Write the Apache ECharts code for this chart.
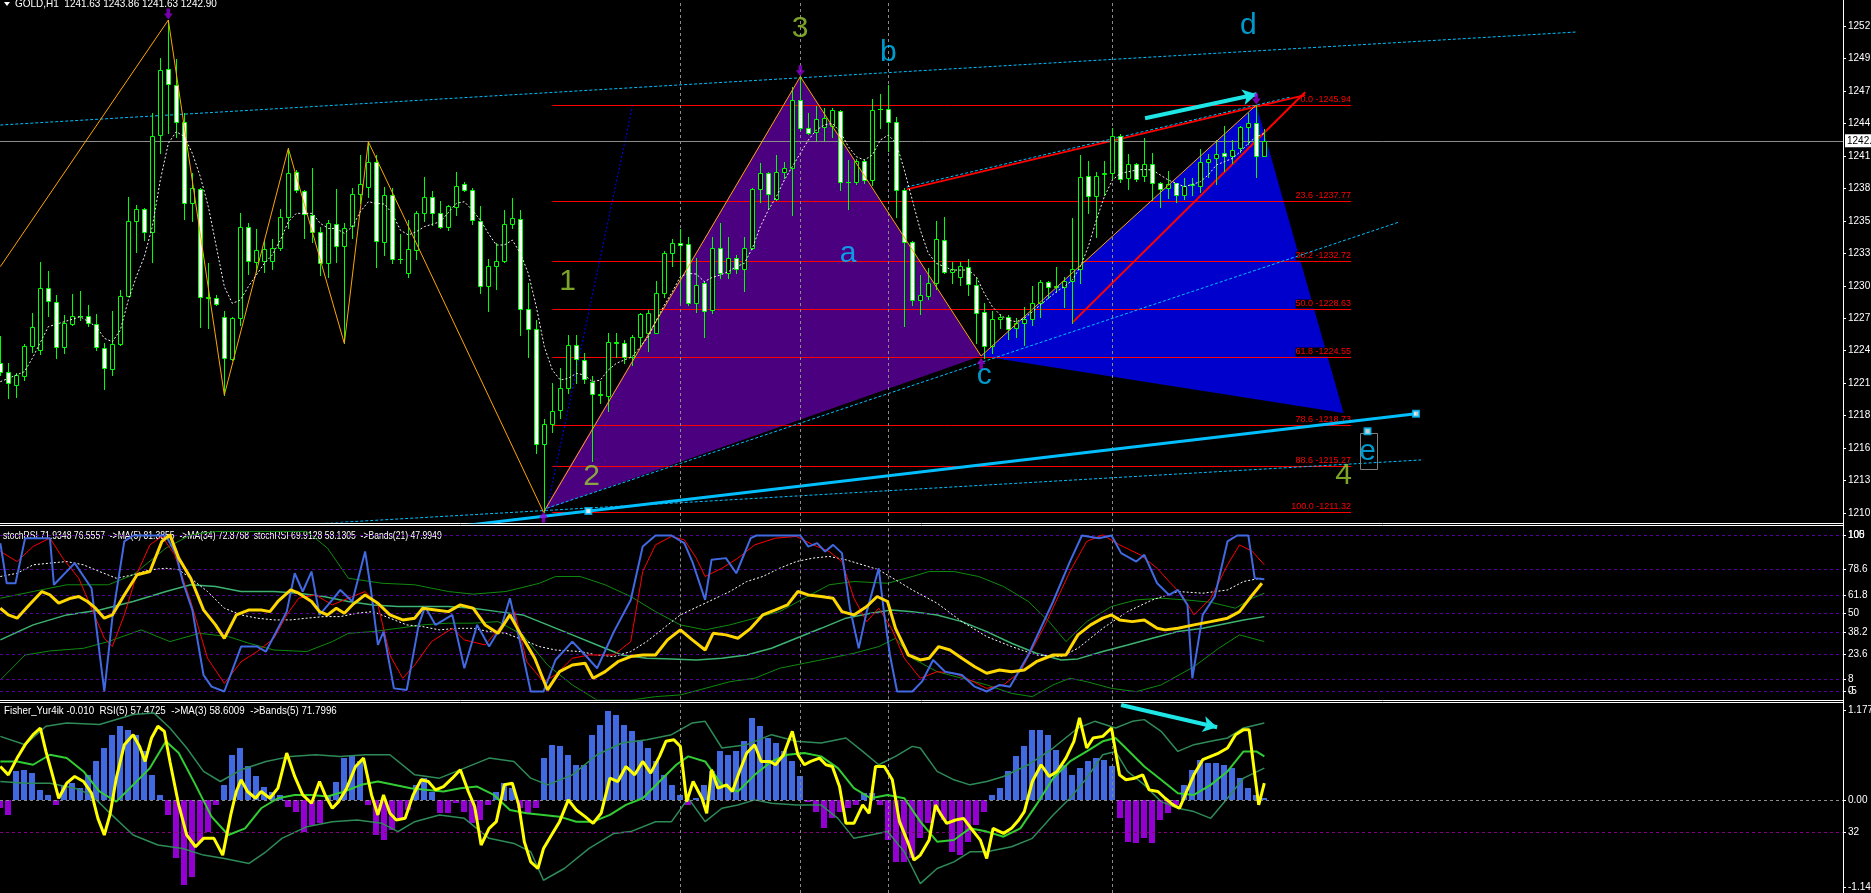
<!DOCTYPE html>
<html><head><meta charset="utf-8">
<script src="https://cdn.jsdelivr.net/npm/echarts@6/dist/echarts.min.js"></script>
<style>html,body{margin:0;padding:0;background:#000;overflow:hidden}#c{width:1871px;height:893px}</style>
</head><body><div id="c"></div>
<script>
// ---------- MAIN PANEL DATA (GOLD,H1) ----------
const candleOpen = [
1224.03,1223.28,1222.14,1222.93,1225.48,1225.11,1230.41,1229.19,1225.34,1227.32,
1228.01,1228.01,1227.32,1225.31,1223.50,1225.60,1229.73,1236.08,1237.07,1235.12,
1243.39,1248.99,1247.64,1244.52,1237.58,1238.77,1229.65,1229.50,1227.89,1224.35,
1227.86,1235.60,1232.62,1232.68,1232.68,1233.81,1236.45,1240.27,1238.66,1236.59,
1235.12,1232.54,1235.80,1233.95,1235.68,1238.34,1239.00,1241.12,1234.27,1238.29,
1232.88,1231.69,1233.61,1236.73,1238.09,1236.73,1235.60,1237.30,1239.19,1238.71,
1236.08,1230.55,1232.25,1232.68,1235.80,1236.22,1228.60,1226.90,1217.10,1218.80,
1220.02,1221.86,1225.54,1224.26,1222.42,1221.38,1221.21,1225.82,1225.68,1224.49,
1226.25,1226.59,1226.59,1229.93,1233.39,1234.24,1234.10,1229.08,1230.84,1228.51,
1233.81,1231.69,1232.96,1231.97,1233.81,1238.77,1240.19,1237.95,1240.27,1240.61,
1246.36,1243.95,1243.67,1244.10,1244.15,1245.43,1239.42,1239.42,1241.21,1239.56,
1245.63,1245.60,1244.52,1238.71,1234.32,1229.36,1229.70,1230.78,1234.46,1231.77,
1231.35,1232.14,1230.64,1228.32,1225.48,1227.75,1227.89,1227.01,1227.38,1227.72,
1229.14,1230.90,1230.53,1230.44,1230.98,1231.97,1239.93,1238.23,1240.04,1240.13,
1243.33,1239.76,1240.89,1239.93,1240.92,1239.28,1238.85,1239.28,1238.29,1239.17,
1239.05,1241.12,1241.40,1241.89,1241.63,1242.25,1244.10,1244.44,1241.63];
const candleHigh = [
1226.30,1224.03,1223.19,1225.60,1228.29,1232.62,1231.86,1229.79,1228.09,1229.87,
1230.13,1228.94,1228.18,1225.68,1228.46,1230.21,1238.09,1237.41,1237.20,1245.29,
1249.96,1253.16,1249.85,1245.23,1240.13,1238.90,1232.48,1229.79,1228.46,1227.90,
1236.73,1235.88,1235.37,1234.46,1234.52,1237.07,1242.25,1240.41,1238.71,1240.61,
1235.60,1236.16,1238.77,1235.94,1238.91,1241.69,1242.82,1241.69,1239.00,1238.85,
1234.94,1236.16,1236.96,1239.85,1238.63,1237.78,1237.44,1240.21,1239.42,1238.85,
1237.35,1232.82,1234.18,1237.01,1238.00,1237.01,1230.84,1227.66,1219.22,1222.28,
1223.56,1226.39,1226.39,1224.83,1222.90,1222.48,1226.59,1226.59,1225.96,1226.35,
1228.23,1228.51,1230.98,1233.56,1234.52,1235.37,1234.75,1232.90,1230.98,1234.69,
1235.88,1234.69,1233.19,1234.69,1238.91,1240.98,1240.27,1241.69,1241.12,1247.44,
1248.35,1245.29,1245.85,1245.65,1245.65,1245.51,1241.26,1241.32,1241.32,1246.45,
1246.87,1247.64,1244.89,1238.85,1234.40,1231.49,1232.05,1236.11,1236.45,1232.62,
1232.62,1232.82,1231.21,1229.14,1228.43,1228.18,1228.09,1227.81,1228.74,1230.58,
1231.07,1231.01,1232.20,1231.35,1236.31,1241.69,1241.18,1240.27,1241.21,1243.95,
1243.47,1241.77,1241.04,1243.10,1241.89,1239.42,1240.36,1239.34,1239.70,1239.70,
1242.17,1241.77,1242.96,1244.18,1242.96,1244.15,1245.23,1245.94,1243.86];
const candleLow = [
1222.99,1221.07,1221.15,1222.57,1224.97,1224.77,1228.01,1224.46,1224.88,1227.24,
1227.67,1227.15,1225.11,1221.80,1223.02,1225.54,1229.70,1233.47,1234.46,1232.62,
1241.83,1243.53,1243.25,1236.25,1236.11,1227.04,1226.96,1228.94,1221.29,1224.26,
1227.24,1231.57,1231.77,1231.77,1231.97,1233.61,1235.46,1238.57,1234.66,1234.32,
1231.49,1231.29,1232.62,1225.68,1234.66,1237.58,1238.15,1232.20,1233.19,1232.48,
1232.48,1231.29,1232.82,1236.11,1235.71,1235.51,1235.31,1236.59,1238.66,1235.80,
1229.93,1228.43,1230.27,1232.62,1235.51,1226.39,1224.49,1216.39,1211.32,1218.17,
1219.31,1221.49,1222.28,1222.28,1215.68,1220.58,1219.96,1224.49,1223.98,1223.84,
1225.54,1225.06,1226.53,1229.59,1232.25,1229.22,1228.94,1228.32,1226.25,1228.23,
1231.21,1231.26,1231.63,1230.13,1233.67,1237.72,1237.16,1237.86,1239.70,1236.59,
1243.81,1243.47,1242.96,1242.96,1243.19,1238.71,1237.07,1239.19,1239.28,1239.14,
1243.95,1242.06,1236.45,1227.15,1228.94,1228.18,1229.45,1230.27,1231.69,1230.78,
1230.64,1229.79,1225.68,1224.40,1224.83,1226.96,1226.02,1226.25,1225.54,1227.24,
1227.89,1229.50,1230.07,1228.80,1227.44,1230.78,1236.79,1234.75,1238.29,1239.70,
1239.42,1238.83,1239.51,1239.48,1237.86,1237.30,1238.00,1237.72,1237.92,1238.29,
1238.57,1239.85,1239.22,1240.36,1241.04,1241.97,1242.62,1239.85,1241.63];
const candleClose = [
1223.28,1222.28,1222.99,1225.48,1227.07,1230.41,1229.28,1225.34,1227.38,1228.01,
1227.98,1227.44,1225.34,1223.58,1225.60,1229.70,1236.08,1237.07,1235.12,1243.33,
1248.91,1247.72,1244.52,1237.58,1238.85,1229.65,1229.50,1229.00,1224.46,1227.81,
1235.60,1232.68,1233.61,1233.67,1233.81,1236.45,1240.19,1238.71,1236.67,1235.12,
1232.48,1235.88,1233.95,1235.51,1238.34,1239.19,1241.12,1234.38,1238.29,1232.82,
1232.82,1233.67,1236.73,1238.09,1236.73,1235.60,1237.35,1239.08,1238.71,1236.16,
1230.55,1232.25,1232.68,1235.80,1236.31,1228.60,1226.90,1217.10,1218.80,1219.96,
1221.86,1225.54,1224.32,1222.62,1221.35,1221.32,1225.82,1225.68,1224.49,1226.25,
1228.18,1228.29,1229.99,1233.33,1234.24,1234.04,1229.08,1230.64,1228.43,1233.76,
1231.69,1232.96,1231.97,1233.81,1238.77,1240.19,1238.34,1240.27,1240.61,1246.36,
1243.95,1243.53,1244.72,1244.80,1245.51,1239.42,1239.39,1241.21,1239.56,1245.51,
1245.57,1244.52,1238.71,1234.27,1229.36,1229.79,1230.78,1234.52,1231.77,1231.97,
1232.25,1230.70,1228.29,1225.46,1227.72,1227.95,1226.90,1227.38,1227.75,1229.14,
1230.90,1230.44,1230.47,1230.98,1231.97,1239.85,1238.20,1239.93,1240.19,1243.30,
1239.65,1240.89,1239.65,1240.89,1239.28,1238.77,1239.19,1238.29,1239.08,1239.22,
1241.12,1241.35,1241.77,1241.63,1242.11,1244.10,1244.44,1241.63,1242.90];

// moving average (white dotted) [bar index, price]
const maLine = [[0,1222.42],[3,1223.27],[4,1224.41],[6,1227.10],[8,1227.52],[10,1227.95],[12,1227.10],[13,1226.11],[14,1225.82],[15,1226.81],[16,1229.36],[17,1231.35],[18,1233.05],[19,1235.60],[20,1239.56],[21,1242.68],[22,1243.67],[23,1243.25],[24,1241.83],[25,1239.85],[26,1237.30],[27,1233.90],[28,1230.50],[29,1229.08],[30,1229.36],[31,1230.50],[32,1231.49],[33,1232.48],[34,1233.19],[35,1234.46],[36,1236.02],[37,1236.73],[39,1236.73],[40,1235.88],[41,1235.45],[42,1235.45],[43,1235.03],[44,1235.60],[45,1236.87],[46,1237.72],[47,1237.58],[48,1237.52],[49,1236.73],[50,1235.31],[51,1234.89],[52,1235.17],[53,1235.60],[55,1236.02],[57,1237.58],[58,1237.72],[59,1237.01],[60,1236.16],[61,1235.03],[62,1234.04],[63,1234.04],[64,1234.46],[65,1233.33],[66,1231.63],[67,1228.80],[68,1225.40],[69,1223.42],[70,1222.56],[71,1222.71],[72,1223.13],[73,1222.99],[74,1222.42],[75,1222.56],[76,1223.42],[77,1223.98],[78,1224.27],[79,1224.55],[80,1225.40],[81,1226.25],[82,1227.66],[83,1228.94],[84,1230.07],[85,1231.35],[86,1231.63],[87,1231.57],[88,1230.92],[89,1231.29],[90,1231.49],[91,1231.77],[92,1232.20],[93,1232.48],[94,1233.76],[95,1235.60],[96,1237.01],[97,1238.15],[98,1239.56],[99,1240.70],[100,1241.83],[101,1242.96],[102,1243.81],[103,1244.24],[104,1244.38],[105,1243.67],[106,1242.40],[107,1241.55],[108,1241.26],[109,1241.69],[110,1242.96],[111,1243.39],[112,1242.68],[113,1240.41],[114,1237.86],[115,1235.31],[116,1233.33],[117,1232.48],[118,1232.20],[119,1231.91],[121,1231.91],[122,1231.35],[123,1229.93],[124,1228.80],[125,1228.09],[126,1227.66],[127,1227.52],[128,1227.81],[129,1228.37],[130,1228.94],[131,1229.51],[132,1230.07],[133,1230.50],[134,1231.06],[135,1232.20],[136,1233.90],[137,1236.16],[138,1238.15],[139,1239.56],[140,1240.13],[141,1240.27],[142,1240.41],[143,1240.47],[144,1240.41],[145,1239.99],[146,1239.56],[147,1239.28],[148,1239.00],[149,1239.19],[150,1239.42],[151,1239.99],[152,1240.84],[153,1241.12],[154,1241.40],[155,1241.97],[156,1242.68],[157,1243.25],[158,1243.53]];

// zigzag pivots [bar index, price]
const zigzag = [[0,1232.2],[21,1253.16],[28,1221.29],[36,1242.25],[43,1225.68],[46,1242.82],[67.9,1211.32],[100,1248.35],[122.6,1224.6],[157,1245.94]];
const purpleTriangle = [[67.9,1211.52],[100,1248.35],[122.6,1224.6]];
const blueTriangle = [[122.6,1224.6],[157,1245.94],[167.9,1219.76]];

// Fibonacci levels
const fibPct = [0.0,23.6,38.2,50.0,61.8,78.6,88.6,100.0];
const fibPrice = [1245.94,1237.77,1232.72,1228.63,1224.55,1218.73,1215.27,1211.32];
const fibRange = [69,168.85];

// trend / channel lines [bar index, price]
const channelUpper = [[0,1244.24],[196.9,1252.14]];
const channelLower = [[40,1210.37],[177.6,1215.77]];
const lineFrom2 = [[68.3,1211.66],[174.75,1235.97]];
const blueDotLine = [[68.3,1211.5],[79.0,1245.8]];
const cyanDotUpper = [[113.3,1238.97],[161.2,1246.6]];
const redUpper = [[113.3,1238.77],[163.09,1246.78]];
const redSteep = [[134.0,1227.44],[163.1,1247.02]];
const cyanThick = [[40,1208.75],[176.96,1219.70]];
const cyanHandles = [[73.5,1211.43],[176.96,1219.70],[170.9,1218.2]];
const cyanArrowMain = [[143.09,1244.81],[157.05,1246.85]];
const eBox = [[169.9,1218.07],[172.0,1215.01]];
const vLineIdx = [85,100,111,139];

// wave labels
const waveText = ['1','2','3','4','a','b','c','d','e'];
const wavePos = [[70.9,1230.93],[73.9,1214.35],[99.96,1252.42],[167.9,1214.46],[105.96,1233.31],[111.0,1250.39],[123.0,1222.94],[156.0,1252.66],[170.9,1216.43]];
const pivotDown = [[21,1253.16],[100,1248.35],[157,1245.94]];
const pivotUp = [[67.9,1211.32],[122.6,1224.4]];

// price axis ticks
const priceTickValues = [1252.655,1249.895,1247.135,1244.375,1241.615,1238.855,1236.095,1233.335,1230.575,1227.815,1225.055,1222.295,1219.535,1216.775,1214.015,1211.255];
const priceTickLabels = ['1252.65','1249.89','1247.13','1244.37','1241.61','1238.85','1235.99','1233.33','1230.57','1227.81','1224.99','1221.99','1218.99','1216.77','1213.99','1210.99'];

// ---------- STOCH RSI PANEL ----------
const stochLevels = [100,78.6,61.8,50,38.2,23.6,8,0];
const stochLevelLabels = ['100','78.6','61.8','50','38.2','23.6','8','0'];
const stochBlue = [[0,95.1],[0.8,69.4],[1.9,69.4],[3.1,98.3],[6.2,98.3],[6.7,68.4],[9.3,82.3],[11.4,66.2],[13.0,0],[14.0,47.0],[15.5,96.2],[16.6,100],[20.7,100],[22.0,87.6],[22.8,70.5],[24.0,52.3],[25.4,10.6],[26.4,3.1],[28.0,0],[30.1,28.8],[32.1,28.8],[33.2,25.6],[35.8,51.2],[36.8,75.8],[37.8,64.1],[38.9,76.9],[39.9,49.1],[41.5,58.7],[42.5,65.1],[44.0,57.7],[45.6,89.8],[46.3,66.2],[47.2,29.9],[47.9,38.4],[49.2,2.0],[50.8,1.0],[52.3,42.7],[53.1,54.4],[54.4,42.7],[56.5,49.1],[58.0,14.9],[59.6,42.7],[61.1,28.8],[62.7,42.7],[63.7,59.8],[65.1,28.8],[66.3,0],[67.9,0],[69.4,20.2],[71.5,32.0],[73.1,23.4],[74.6,14.9],[76.7,38.4],[78.8,58.7],[80.3,93.0],[81.9,100],[83.9,100],[85.5,95.1],[86.5,83.3],[88.1,58.7],[88.9,84.4],[90.7,85.5],[92.0,75.8],[93.8,98.3],[94.5,100],[100.0,100],[101.0,92.9],[102.1,95.1],[103.1,89.7],[104.1,94.0],[105.2,88.7],[106.2,53.4],[107.3,27.7],[108.3,51.2],[109.8,79.0],[110.5,49.1],[111.2,23.4],[112.1,0],[114.0,0],[115.2,6.3],[116.6,20.2],[118.1,12.7],[120.2,10.6],[121.8,3.1],[123.3,0],[124.9,4.2],[126.2,3.1],[128.5,23.4],[131.6,57.7],[133.7,83.3],[135.2,100],[137.3,98.3],[138.9,100],[140.1,88.7],[142.0,83.3],[143.0,87.6],[144.6,69.4],[146.1,61.9],[147.2,65.1],[148.4,55.5],[149.0,8.5],[150.3,49.1],[151.8,60.9],[153.4,96.2],[154.6,100],[156.0,100],[156.8,72.6],[158.0,71.9]];
const stochRed = [[0,89.8],[2.1,83.3],[4.1,93.0],[6.2,98.3],[7.8,85.5],[9.8,72.6],[11.4,53.4],[13.0,34.1],[14.0,28.8],[15.5,49.1],[17.1,75.8],[18.7,94.0],[20.2,99.4],[21.8,87.6],[23.8,57.7],[25.9,21.3],[28.0,5.2],[30.1,19.1],[32.1,25.6],[34.2,34.1],[35.8,49.1],[37.3,59.8],[39.4,61.9],[41.5,55.5],[43.5,59.8],[45.6,64.1],[47.2,55.5],[48.7,23.4],[50.3,8.5],[51.8,17.0],[53.9,32.0],[56.5,40.5],[58.0,33.1],[60.6,29.8],[62.7,42.7],[64.3,51.2],[65.8,19.1],[67.9,6.3],[69.4,10.6],[71.5,21.3],[73.6,23.4],[76.7,23.4],[78.8,32.0],[80.3,76.9],[81.9,94.0],[83.9,99.4],[85.5,97.2],[87.0,85.5],[88.1,73.7],[90.2,79.0],[92.2,85.5],[94.3,94.0],[96.9,98.3],[99.5,99.4],[101.6,94.0],[103.6,89.8],[105.2,83.3],[106.7,59.8],[108.3,44.8],[109.8,53.4],[111.4,40.5],[113.0,21.3],[115.0,8.5],[117.1,12.7],[119.2,11.7],[121.2,7.4],[123.3,2.0],[125.4,4.2],[127.5,12.7],[130.6,42.7],[133.7,76.9],[135.8,96.2],[137.8,100.4],[139.9,94.0],[142.5,87.6],[144.6,79.0],[146.1,70.5],[147.7,61.9],[149.2,49.1],[151.3,59.8],[153.4,81.2],[154.9,94.0],[156.5,89.8],[158.0,81.2]];
const stochMA34 = [[0,73.7],[2.1,75.8],[4.1,81.2],[6.2,82.3],[8.3,83.3],[10.4,81.2],[12.4,76.9],[14.5,72.6],[16.6,74.8],[18.7,78.0],[20.7,79.0],[22.3,78.0],[23.8,72.6],[25.9,64.1],[28.0,53.4],[30.1,49.1],[32.1,47.0],[34.2,45.9],[36.3,45.9],[38.3,47.0],[40.4,48.0],[42.5,48.0],[44.6,50.2],[46.6,51.2],[48.7,47.0],[50.8,42.7],[52.8,41.6],[54.9,39.5],[57.0,40.5],[59.1,40.5],[61.1,38.4],[63.2,37.3],[65.3,33.1],[67.4,28.8],[69.4,26.6],[72.5,25.6],[74.6,23.4],[76.7,22.4],[78.8,25.6],[80.8,32.0],[82.9,40.5],[85.0,49.1],[88.1,56.6],[91.2,64.1],[93.3,70.5],[95.3,73.7],[97.4,79.0],[99.5,83.3],[101.6,85.5],[103.6,86.6],[105.7,84.4],[107.8,81.2],[109.8,78.0],[111.9,71.6],[114.0,65.1],[117.1,56.6],[120.2,44.8],[123.3,35.2],[126.4,28.8],[129.5,23.4],[132.6,22.4],[134.7,27.7],[137.8,40.5],[140.9,51.2],[144.0,58.7],[147.2,64.1],[150.3,63.0],[153.4,65.1],[155.4,70.5],[157.5,72.6]];
const stochYellow = [[0,53.4],[1.0,49.1],[2.1,47.0],[3.6,55.5],[5.2,64.1],[6.2,61.9],[7.3,56.6],[8.8,59.8],[9.8,60.9],[10.9,57.7],[11.9,53.4],[13.0,47.0],[14.0,49.1],[15.5,61.9],[17.1,74.8],[18.7,76.9],[20.2,96.2],[21.2,100.4],[22.3,85.5],[23.8,72.6],[25.4,52.3],[26.9,42.7],[28.0,34.1],[29.5,49.1],[31.1,52.3],[32.6,52.3],[33.7,51.2],[34.7,57.7],[36.3,65.1],[37.3,63.0],[38.9,57.7],[39.9,51.2],[40.9,49.1],[42.0,53.4],[43.0,50.2],[44.0,55.5],[45.6,61.9],[47.2,56.6],[48.7,49.1],[50.3,45.9],[51.8,47.0],[52.8,53.4],[54.4,52.3],[56.0,51.2],[57.5,55.5],[59.1,53.4],[60.6,42.7],[62.2,37.3],[63.7,49.1],[65.1,36.3],[66.8,21.3],[68.4,1.0],[69.9,12.7],[71.5,17.0],[73.1,18.1],[74.1,8.5],[75.6,12.7],[77.2,19.1],[78.8,22.4],[80.3,23.4],[81.9,23.4],[83.4,33.1],[85.0,39.5],[86.5,33.1],[88.1,26.6],[89.1,37.3],[90.7,36.3],[92.2,34.1],[93.8,40.5],[95.3,49.1],[96.9,52.3],[98.4,55.5],[99.7,64.1],[101.0,61.9],[102.6,60.9],[104.1,59.8],[105.2,51.2],[106.7,49.1],[108.3,54.5],[109.6,60.9],[110.9,57.7],[111.9,40.5],[113.5,23.4],[115.0,20.2],[116.1,21.3],[117.3,28.8],[118.7,26.6],[120.2,21.3],[121.8,15.9],[123.3,11.7],[124.9,13.8],[126.4,12.7],[128.0,13.8],[129.5,19.1],[131.6,23.4],[133.2,23.4],[134.7,36.3],[136.3,42.7],[137.8,47.0],[138.9,49.1],[139.9,45.9],[141.5,44.8],[143.0,45.9],[144.6,40.5],[145.6,39.5],[147.2,40.5],[149.2,42.7],[151.3,44.8],[153.4,47.0],[154.9,51.2],[156.5,61.9],[157.7,69.4]];
const stochBandMid = [[0,33.1],[4.1,42.7],[8.3,49.1],[12.4,52.3],[16.6,57.7],[20.7,64.1],[23.8,68.4],[26.9,67.3],[30.1,64.1],[34.2,64.1],[37.3,63.0],[40.4,60.9],[43.5,57.7],[46.6,55.5],[49.7,54.5],[52.8,54.5],[56.0,54.5],[59.1,53.4],[62.2,51.2],[65.3,49.1],[68.4,42.7],[71.5,36.3],[74.6,29.8],[77.7,23.4],[80.8,21.3],[83.9,20.9],[87.0,20.2],[90.2,21.3],[93.3,23.4],[96.4,27.7],[99.5,34.1],[102.6,40.5],[105.7,47.0],[108.8,50.2],[111.4,52.3],[114.0,51.2],[117.1,49.1],[120.2,44.8],[123.3,38.4],[126.4,30.9],[129.5,24.5],[132.6,20.2],[134.7,20.9],[137.8,25.6],[140.9,29.8],[144.0,34.1],[147.2,38.4],[150.3,40.5],[153.4,43.8],[155.4,45.9],[158.0,48.0]];
const stochBandUp = [[0,59.8],[4.1,64.1],[8.3,68.4],[13.5,68.4],[16.6,74.8],[20.7,91.9],[23.8,100.4],[26.9,102.6],[31.1,102.6],[38.3,102.6],[40.9,91.9],[43.5,72.6],[47.7,69.4],[51.8,68.4],[56.0,64.1],[59.1,62.4],[63.2,64.1],[67.4,69.4],[69.4,73.7],[72.5,73.7],[75.6,68.4],[78.8,60.9],[81.9,51.2],[85.0,42.7],[88.1,39.5],[91.2,42.7],[94.3,47.0],[97.4,51.2],[100.5,59.8],[103.6,68.4],[106.7,70.5],[110.9,69.4],[114.0,73.7],[116.1,76.9],[119.2,76.9],[122.3,73.7],[125.4,67.3],[128.5,57.7],[131.1,44.8],[133.2,32.0],[135.8,44.8],[138.9,54.5],[142.0,58.7],[145.1,59.8],[148.2,58.7],[151.3,57.2],[154.4,53.4],[156.5,59.8],[158.0,63.0]];
const stochBandLow = [[0,7.4],[3.1,23.4],[6.2,26.0],[10.4,27.7],[13.5,32.0],[17.6,39.5],[21.2,32.0],[24.9,37.3],[28.5,35.2],[31.1,30.9],[34.2,26.6],[38.3,25.6],[41.5,32.0],[43.5,37.3],[46.6,38.4],[49.7,40.5],[52.8,42.7],[56.0,43.8],[59.1,43.8],[62.2,44.8],[65.3,36.3],[68.4,17.0],[71.5,4.2],[74.6,-5.5],[78.8,-5.5],[81.9,-3.3],[85.0,-2.2],[88.1,2.0],[91.2,6.3],[94.3,8.5],[97.4,14.9],[100.5,18.1],[103.6,21.3],[106.7,24.5],[109.8,28.8],[111.9,34.1],[114.0,21.3],[117.1,12.7],[120.2,8.5],[123.3,4.2],[126.4,-1.2],[129.0,-3.3],[131.6,4.2],[133.7,8.5],[135.8,6.3],[138.9,2.0],[142.0,-0.1],[145.1,4.2],[149.2,15.9],[152.3,27.7],[154.9,36.3],[158.0,32.0]];

// ---------- FISHER PANEL ----------
const fisherHist = [
-0.099,-0.181,0.354,0.374,0.333,0.127,0.065,-0.058,0.189,0.209,
0.148,0.312,0.477,0.642,0.806,0.909,0.868,0.806,0.600,0.312,
0.065,-0.181,-0.716,-1.046,-0.943,-0.510,-0.386,-0.058,0.189,0.559,
0.642,0.415,0.292,0.168,0.107,0.065,-0.079,-0.140,-0.386,-0.305,
-0.284,0.065,0.230,0.518,0.539,0.477,-0.058,-0.428,-0.490,-0.366,
-0.223,-0.120,0.189,0.271,0.107,-0.161,-0.161,-0.037,-0.140,-0.284,
-0.243,-0.058,0.107,0.209,0.148,-0.099,-0.161,-0.099,0.518,0.683,
0.662,0.559,0.436,0.436,0.806,0.930,1.094,1.053,0.930,0.847,
0.744,0.642,0.477,0.312,0.189,0.065,-0.058,0.024,0.189,0.354,
0.600,0.559,0.600,0.724,1.012,0.909,0.765,0.703,0.600,0.477,
0.292,-0.017,-0.140,-0.346,-0.223,-0.140,-0.099,-0.058,0.086,0.086,
-0.058,-0.490,-0.758,-0.758,-0.716,-0.469,-0.284,-0.140,-0.243,-0.634,
-0.675,-0.510,-0.305,-0.140,0.065,0.148,0.354,0.539,0.662,0.868,
0.868,0.806,0.621,0.436,0.312,0.395,0.477,0.518,0.498,0.415,
-0.223,-0.510,-0.531,-0.469,-0.531,-0.243,-0.161,-0.058,0.189,0.374,
0.498,0.456,0.456,0.436,0.395,0.271,0.148,0.065,0.024];
const fisherYellow = [[0,0.415],[1.0,0.312],[2.1,0.518],[3.1,0.683],[4.1,0.806],[5.0,0.888],[5.7,0.600],[6.4,0.354],[7.3,0.024],[8.3,0.209],[9.3,0.292],[10.4,0.230],[11.4,0.086],[12.2,-0.223],[13.0,-0.428],[13.7,-0.181],[14.5,0.271],[15.5,0.683],[16.6,0.806],[17.4,0.662],[18.1,0.477],[18.9,0.765],[19.7,0.909],[20.5,0.847],[21.2,0.477],[22.3,-0.058],[23.3,-0.428],[24.4,-0.572],[25.4,-0.469],[26.7,-0.469],[27.8,-0.675],[28.8,-0.181],[29.5,0.107],[30.1,0.251],[30.9,0.107],[31.9,0.024],[32.6,0.107],[33.7,0.024],[34.7,0.148],[35.8,0.580],[36.8,0.292],[37.8,0.065],[38.9,-0.037],[39.9,0.230],[40.6,0.065],[41.5,-0.099],[42.3,-0.017],[43.3,0.148],[44.4,0.415],[45.4,0.518],[46.4,0.065],[47.2,-0.181],[47.9,0.065],[48.7,-0.161],[49.5,-0.243],[50.6,-0.223],[51.6,0.065],[52.6,0.251],[53.5,0.230],[54.4,0.127],[55.4,0.168],[56.5,0.271],[57.5,0.374],[58.5,0.107],[59.3,-0.079],[60.1,-0.551],[61.1,-0.346],[62.0,-0.264],[63.0,0.189],[64.0,0.209],[64.8,-0.058],[65.5,-0.510],[66.3,-0.758],[67.2,-0.840],[67.9,-0.593],[68.9,-0.428],[69.9,-0.264],[71.0,0.004],[72.0,-0.120],[73.1,-0.202],[74.1,-0.284],[75.1,-0.161],[76.2,0.271],[77.2,0.230],[78.2,0.415],[79.3,0.312],[80.3,0.477],[81.3,0.333],[82.4,0.539],[83.2,0.724],[84.2,0.744],[85.0,0.662],[85.8,-0.017],[86.6,0.230],[87.7,0.024],[88.3,-0.161],[88.9,0.374],[89.7,0.148],[90.8,0.189],[91.5,0.107],[92.4,0.354],[93.3,0.580],[94.3,0.683],[95.1,0.477],[96.2,0.477],[96.9,0.436],[97.9,0.559],[99.0,0.847],[99.7,0.559],[100.5,0.436],[101.3,0.477],[102.4,0.518],[103.2,0.436],[104.0,0.415],[104.9,0.168],[105.7,-0.284],[106.7,-0.284],[107.8,-0.058],[108.6,-0.161],[109.4,0.415],[110.5,0.415],[111.5,0.251],[112.4,-0.264],[113.5,-0.531],[114.2,-0.737],[115.0,-0.675],[116.1,-0.490],[116.9,-0.058],[117.6,-0.181],[118.3,-0.284],[119.4,-0.243],[120.4,-0.223],[121.5,-0.366],[122.5,-0.490],[123.3,-0.716],[124.1,-0.346],[125.4,-0.408],[126.4,-0.346],[127.3,-0.243],[128.0,-0.140],[129.0,0.230],[130.1,0.436],[131.1,0.292],[132.1,0.354],[133.2,0.518],[134.2,0.724],[134.9,1.012],[135.8,0.642],[136.6,0.765],[137.8,0.785],[138.9,0.888],[139.9,0.312],[140.7,0.251],[141.8,0.271],[142.8,0.312],[143.6,0.127],[144.7,0.107],[145.6,0.024],[146.6,-0.058],[147.4,-0.099],[148.2,0.086],[149.2,0.312],[150.3,0.498],[151.3,0.539],[152.3,0.580],[153.4,0.642],[154.4,0.806],[155.4,0.868],[156.1,0.868],[156.7,0.395],[157.3,-0.058],[158.0,0.209]];
const fisherMid = [[0,0.477],[2.1,0.477],[4.1,0.436],[6.2,0.559],[8.3,0.518],[10.4,0.354],[12.4,0.107],[14.5,-0.017],[16.6,0.189],[18.7,0.395],[20.7,0.724],[22.3,0.580],[24.4,0.189],[26.4,-0.202],[28.5,-0.428],[30.6,-0.346],[32.6,-0.099],[34.7,0.024],[36.8,0.065],[38.9,0.065],[40.9,0.045],[43.0,0.107],[45.1,0.189],[47.2,0.230],[49.2,0.189],[51.3,0.148],[53.4,0.127],[55.4,0.107],[57.5,0.148],[59.6,0.168],[61.7,0.065],[63.7,-0.120],[65.8,-0.161],[67.9,-0.181],[69.9,-0.202],[72.0,-0.264],[74.1,-0.264],[76.2,-0.181],[78.2,-0.058],[80.3,0.024],[82.4,0.230],[84.5,0.436],[86.0,0.539],[88.1,0.477],[90.2,0.189],[92.2,0.107],[94.3,0.312],[96.4,0.477],[98.4,0.559],[100.5,0.580],[102.6,0.539],[104.7,0.395],[106.7,0.148],[108.8,0.024],[110.9,0.065],[113.0,0.024],[115.0,-0.264],[117.1,-0.510],[119.2,-0.490],[121.2,-0.346],[123.3,-0.386],[125.4,-0.449],[127.5,-0.346],[129.5,-0.058],[131.6,0.271],[133.7,0.477],[135.8,0.600],[137.8,0.724],[139.4,0.765],[140.9,0.621],[143.0,0.415],[145.1,0.251],[147.2,0.086],[149.2,0.065],[151.3,0.189],[153.4,0.354],[155.4,0.600],[157.0,0.600],[158.0,0.539]];
const fisherBandUp = [[0,0.785],[3.1,0.683],[5.7,0.909],[8.3,0.950],[12.4,0.930],[16.6,1.053],[19.2,1.073],[21.2,0.888],[23.3,0.642],[25.4,0.354],[27.5,0.230],[30.1,0.374],[33.2,0.477],[36.3,0.539],[39.4,0.559],[42.5,0.539],[45.6,0.559],[48.7,0.559],[51.8,0.312],[54.9,0.271],[58.0,0.395],[61.1,0.518],[64.2,0.477],[66.3,0.271],[68.4,0.189],[71.5,0.312],[74.6,0.559],[77.7,0.703],[80.8,0.744],[83.9,0.806],[86.5,0.950],[88.1,0.970],[90.2,0.642],[93.3,0.683],[96.4,0.806],[99.5,0.724],[102.6,0.703],[105.7,0.765],[107.8,0.600],[109.8,0.436],[111.9,0.539],[114.0,0.662],[115.0,0.642],[117.1,0.354],[119.2,0.251],[121.2,0.189],[123.3,0.230],[125.4,0.292],[128.5,0.436],[131.6,0.642],[134.7,0.888],[136.8,0.970],[139.4,0.888],[141.5,0.970],[143.0,0.991],[145.1,0.847],[147.2,0.600],[149.2,0.683],[151.3,0.724],[153.4,0.765],[155.4,0.888],[158.0,0.950]];
const fisherBandLow = [[0,0.230],[3.1,0.209],[6.2,0.209],[9.3,0.148],[11.4,0.065],[13.5,-0.140],[16.6,-0.428],[19.7,-0.551],[22.8,-0.593],[25.4,-0.675],[28.0,-0.716],[31.1,-0.778],[33.2,-0.634],[35.2,-0.469],[38.3,-0.325],[41.5,-0.264],[44.6,-0.243],[47.7,-0.284],[49.7,-0.386],[51.8,-0.264],[54.9,-0.181],[58.0,-0.223],[61.1,-0.469],[64.2,-0.531],[66.3,-0.634],[67.9,-0.984],[70.5,-0.840],[73.6,-0.593],[76.7,-0.408],[78.8,-0.386],[81.9,-0.264],[83.9,-0.264],[86.0,0.024],[88.1,-0.264],[90.2,-0.099],[92.2,-0.058],[94.3,0.004],[96.4,-0.037],[99.5,-0.058],[102.6,-0.058],[104.7,-0.223],[106.7,-0.469],[108.8,-0.428],[110.9,-0.386],[113.0,-0.634],[115.0,-1.025],[117.1,-0.840],[119.2,-0.758],[121.2,-0.634],[123.3,-0.634],[126.4,-0.572],[129.0,-0.469],[131.6,-0.181],[133.7,0.024],[135.8,0.271],[137.8,0.559],[139.4,0.600],[140.9,0.354],[143.0,0.189],[145.1,-0.017],[147.2,-0.099],[149.2,-0.140],[151.3,-0.223],[153.4,0.024],[155.4,0.271],[158.0,0.395]];
const fisherArrow = [[140.1,1.171],[152.1,0.897]];
const fisherTickValues = [1.109,0,-0.4,-1.076];
const fisherTickLabels = ['1.177','0.00','32','-1.141'];

// ---------- CHART ----------
const X_MIN = -0.04, X_MAX = 230.335;
const FONT = '"Liberation Sans", Arial, sans-serif';
const chart = echarts.init(document.getElementById('c'), null, {renderer:'canvas'});
const lastClose = candleClose[candleClose.length-1];

function lookup(vals, labels){ return v => { const k = vals.findIndex(t => Math.abs(t - v) < 1e-6); return k >= 0 ? labels[k] : ''; }; }
function yAx(grid, min, max, vals, labels, extra){
  return Object.assign({
    type:'value', gridIndex:grid, min, max, position:'right', scale:true,
    axisLine:{show:true, onZero:false, lineStyle:{color:'#ffffff', width:1}},
    axisTick:{show:true, length:3, customValues: vals, lineStyle:{color:'#ffffff'}},
    splitLine:{show:false},
    axisLabel:{show:true, customValues: vals, formatter: lookup(vals, labels), color:'#ffffff', fontFamily:FONT, fontSize:10, margin:5}
  }, extra || {});
}
function seg(pts, color, width, type, z, xi){
  return {type:'line', xAxisIndex:xi||0, yAxisIndex:xi||0, data:pts, symbol:'none', showSymbol:false, silent:true, z, clip:true,
    lineStyle:{color, width, type}};
}
const vLineItems = vLineIdx.map(v => ({xAxis:v, lineStyle:{color:'#8a8a8a', type:[3,3], width:1}}));

const series = [
  {type:'custom', xAxisIndex:0, yAxisIndex:0, z:1, silent:true,
   data:[purpleTriangle[0], blueTriangle[0]],
   renderItem:(params, api) => {
     const tri = params.dataIndex === 0 ? purpleTriangle : blueTriangle;
     return {type:'polygon', shape:{points: tri.map(p => api.coord(p))}, style:{fill: params.dataIndex === 0 ? '#4b0080' : '#0000cd'}};
   }},
  {type:'line', xAxisIndex:0, yAxisIndex:0, data:[], z:2, silent:true,
   markLine:{silent:true, symbol:'none', label:{show:false}, data: vLineItems}},
  {type:'custom', xAxisIndex:0, yAxisIndex:0, z:3, silent:true,
   data: fibPrice.map((p,k) => [fibRange[0], p, fibPct[k]]),
   renderItem:(params, api) => {
     const price = api.value(1), pct = api.value(2);
     const a = api.coord([fibRange[0], price]), b = api.coord([fibRange[1], price]);
     const y = Math.round(a[1]) + 0.5;
     return {type:'group', children:[
       {type:'line', shape:{x1:a[0], y1:y, x2:b[0], y2:y}, style:{stroke:'#ff0000', lineWidth:1}},
       {type:'text', style:{text: pct.toFixed(1) + ' -' + price.toFixed(2), x:b[0], y:y - 1,
         align:'right', textAlign:'right', verticalAlign:'bottom', textVerticalAlign:'bottom',
         fill:'#ff0000', font:'9px ' + FONT, backgroundColor:'#000000'}}
     ]};
   }},
  seg(channelUpper, '#00bfff', 1, [3,2], 4),
  seg(channelLower, '#00bfff', 1, [3,2], 4),
  seg(lineFrom2, '#00bfff', 1, [3,2], 4),
  seg(blueDotLine, '#0000ff', 1, [2,2], 4),
  seg(cyanDotUpper, '#00bfff', 1, [3,2], 4),
  seg(redUpper, '#ff0000', 2, 'solid', 4),
  seg(redSteep, '#ff0000', 2, 'solid', 4),
  Object.assign(seg(cyanThick, '#00bfff', 3, 'solid', 4), {
    markLine:{silent:true, symbol:['none','arrow'], symbolSize:[12,14], label:{show:false},
      lineStyle:{color:'#1ee6e6', width:4, type:'solid'},
      data:[[{coord:cyanArrowMain[0]},{coord:cyanArrowMain[1]}]]}}),
  {type:'custom', xAxisIndex:0, yAxisIndex:0, z:5, silent:true,
   data: candleOpen.map((o,i) => [i, o, candleClose[i], candleLow[i], candleHigh[i]]),
   encode:{x:0, y:[1,2,3,4]},
   renderItem:(params, api) => {
     const i = api.value(0), o = api.value(1), c = api.value(2), l = api.value(3), h = api.value(4);
     const pO = api.coord([i,o]), pC = api.coord([i,c]), pL = api.coord([i,l]), pH = api.coord([i,h]);
     const x = Math.round(pO[0]) + 0.5;
     const top = Math.round(Math.min(pO[1], pC[1])) + 0.5, bot = Math.round(Math.max(pO[1], pC[1])) + 0.5;
     const ch = [{type:'line', shape:{x1:x, y1:Math.round(pH[1]), x2:x, y2:Math.round(pL[1]) + 1}, style:{stroke:'#00ff00', lineWidth:1}}];
     if (bot - top < 1) ch.push({type:'line', shape:{x1:x - 2.5, y1:top, x2:x + 2.5, y2:top}, style:{stroke:'#00ff00', lineWidth:1}});
     else ch.push({type:'rect', shape:{x:x - 2, y:top, width:4, height:bot - top}, style:{fill: c >= o ? '#000000' : '#ffffff', stroke:'#00ff00', lineWidth:1}});
     return {type:'group', children:ch};
   }},
  seg(zigzag, '#ffa500', 1, 'solid', 6),
  Object.assign(seg(maLine, '#f4f0ee', 1, [2,2], 7), {
    markLine:{silent:true, symbol:'none',
      data:[{yAxis:lastClose, lineStyle:{color:'#8c8c8c', type:'solid', width:1},
        label:{show:true, position:'end', formatter: lastClose.toFixed(2), color:'#000', backgroundColor:'#fff', padding:[2,3,1,2], fontSize:10, fontFamily:FONT, distance:2}}]}}),
  {type:'scatter', xAxisIndex:0, yAxisIndex:0, z:8, silent:true, data:pivotDown,
   symbol:'path://M3,0 L7,0 L7,5 L10,5 L5,11 L0,5 L3,5 Z', symbolSize:[9,11], symbolOffset:[0,-6], itemStyle:{color:'#9400d3'}},
  {type:'scatter', xAxisIndex:0, yAxisIndex:0, z:8, silent:true, data:pivotUp,
   symbol:'path://M5,0 L10,6 L7,6 L7,11 L3,11 L3,6 L0,6 Z', symbolSize:[9,11], symbolOffset:[0,5], itemStyle:{color:'#9400d3'}},
  {type:'scatter', xAxisIndex:0, yAxisIndex:0, z:9, silent:true, symbolSize:1, itemStyle:{color:'rgba(0,0,0,0)'},
   data: wavePos.map((p,k) => ({value:p, label:{show:true, position:'inside', formatter: waveText[k],
     color: k < 4 ? '#9acd32' : '#00bfff', fontSize:30, fontFamily:FONT}}))},
  {type:'custom', xAxisIndex:0, yAxisIndex:0, z:9, silent:true, data:[eBox[0]],
   renderItem:(params, api) => {
     const a = api.coord(eBox[0]), b = api.coord(eBox[1]);
     return {type:'rect', shape:{x:Math.round(a[0]) + 0.5, y:Math.round(a[1]) + 0.5, width:Math.round(b[0] - a[0]), height:Math.round(b[1] - a[1])},
       style:{fill:'none', stroke:'#808080', lineWidth:1}};
   }},
  {type:'scatter', xAxisIndex:0, yAxisIndex:0, z:9, silent:true, data:cyanHandles, symbol:'rect', symbolSize:6,
   itemStyle:{color:'#ffffff', borderColor:'#00bfff', borderWidth:2}},

  {type:'line', xAxisIndex:1, yAxisIndex:1, data:[], z:2, silent:true,
   markLine:{silent:true, symbol:'none', label:{show:false},
     data: stochLevels.map(v => ({yAxis:v, lineStyle:{color:'#55009a', type:[3,3], width:1}})).concat(vLineItems)}},
  seg(stochBandUp, '#0f8a0f', 1, 'solid', 3, 1),
  seg(stochBandLow, '#0f8a0f', 1, 'solid', 3, 1),
  seg(stochBandMid, '#3cb371', 1.5, 'solid', 3, 1),
  seg(stochMA34, '#ffffff', 1, [2,2], 4, 1),
  seg(stochRed, '#ff0000', 1, 'solid', 5, 1),
  seg(stochBlue, '#4169e1', 2, 'solid', 6, 1),
  seg(stochYellow, '#ffd700', 3, 'solid', 7, 1),

  {type:'line', xAxisIndex:2, yAxisIndex:2, data:[], z:2, silent:true,
   markLine:{silent:true, symbol:'none', label:{show:false},
     data: [{yAxis:0, lineStyle:{color:'#8c8c8c', type:[3,3], width:1}}, {yAxis:-0.4, lineStyle:{color:'#800080', type:[3,3], width:1}}].concat(vLineItems)}},
  {type:'custom', xAxisIndex:2, yAxisIndex:2, z:3, silent:true,
   data: fisherHist.map((h,i) => [i, h]),
   renderItem:(params, api) => {
     const i = api.value(0), h = api.value(1);
     const p0 = api.coord([i, 0]), p1 = api.coord([i, h]);
     const x = Math.round(p0[0]);
     const y0 = Math.round(p0[1]), y1 = Math.round(p1[1]);
     return {type:'rect', shape:{x:x - 3, y:Math.min(y0, y1), width:6, height:Math.max(1, Math.abs(y1 - y0))},
       style:{fill: h >= 0 ? '#4169e1' : '#9400d3'}};
   }},
  seg(fisherBandUp, '#2e8b57', 1.5, 'solid', 4, 2),
  seg(fisherBandLow, '#2e8b57', 1.5, 'solid', 4, 2),
  seg(fisherMid, '#32cd32', 2, 'solid', 5, 2),
  Object.assign(seg(fisherYellow, '#ffff00', 3, 'solid', 6, 2), {
    markLine:{silent:true, symbol:['none','arrow'], symbolSize:[12,14], label:{show:false},
      lineStyle:{color:'#1ee6e6', width:4, type:'solid'},
      data:[[{coord:fisherArrow[0]},{coord:fisherArrow[1]}]]}})
];

const option = {
  backgroundColor:'#000000',
  animation:false,
  grid:[
    {left:0, top:0, width:1843, height:522, containLabel:false, outerBoundsMode:'none'},
    {left:0, top:527.7, width:1843, height:171.6, containLabel:false, outerBoundsMode:'none'},
    {left:0, top:704.5, width:1843, height:188.5, containLabel:false, outerBoundsMode:'none'}
  ],
  xAxis:[0,1,2].map(k => ({type:'value', gridIndex:k, min:X_MIN, max:X_MAX, show:false})),
  yAxis:[
    yAx(0, 1210.496, 1254.865, priceTickValues, priceTickLabels),
    yAx(1, -5, 105, stochLevels, stochLevelLabels),
    yAx(2, -1.141, 1.177, fisherTickValues, fisherTickLabels),
    yAx(1, -5, 105, [100, 0], ['105', '-5'], {axisLine:{show:false}, axisTick:{show:false}})
  ],
  series,
  graphic:[
    {type:'polygon', shape:{points:[[4,2],[10,2],[7,6]]}, style:{fill:'#ffffff'}, silent:true},
    {type:'text', x:15, y:4.5, scaleX:0.95, silent:true, style:{text:'GOLD,H1  1241.63 1243.86 1241.63 1242.90', fill:'#ffffff', font:'10.5px ' + FONT, verticalAlign:'middle'}},
    {type:'text', x:3, y:536, scaleX:0.82, silent:true, style:{text:'stochRSI 71.9348 76.5557  ->MA(5) 81.3855  ->MA(34) 72.8768  stochRSI 69.9128 58.1305  ->Bands(21) 47.9949', fill:'#ffffff', font:'10.5px ' + FONT, verticalAlign:'middle'}},
    {type:'text', x:4, y:711.5, scaleX:0.93, silent:true, style:{text:'Fisher_Yur4ik -0.010  RSI(5) 57.4725  ->MA(3) 58.6009  ->Bands(5) 71.7996', fill:'#ffffff', font:'10.5px ' + FONT, verticalAlign:'middle'}},
    {type:'line', silent:true, shape:{x1:0, y1:523.5, x2:1843, y2:523.5}, style:{stroke:'#ffffff', lineWidth:1}},
    {type:'line', silent:true, shape:{x1:0, y1:525.5, x2:1843, y2:525.5}, style:{stroke:'#ffffff', lineWidth:1}},
    {type:'line', silent:true, shape:{x1:0, y1:700.5, x2:1843, y2:700.5}, style:{stroke:'#ffffff', lineWidth:1}},
    {type:'line', silent:true, shape:{x1:0, y1:702.5, x2:1843, y2:702.5}, style:{stroke:'#ffffff', lineWidth:1}},
    {type:'line', silent:true, shape:{x1:1843.5, y1:0, x2:1843.5, y2:893}, style:{stroke:'#ffffff', lineWidth:1}}
  ]
};
chart.setOption(option);
</script>
</body></html>
